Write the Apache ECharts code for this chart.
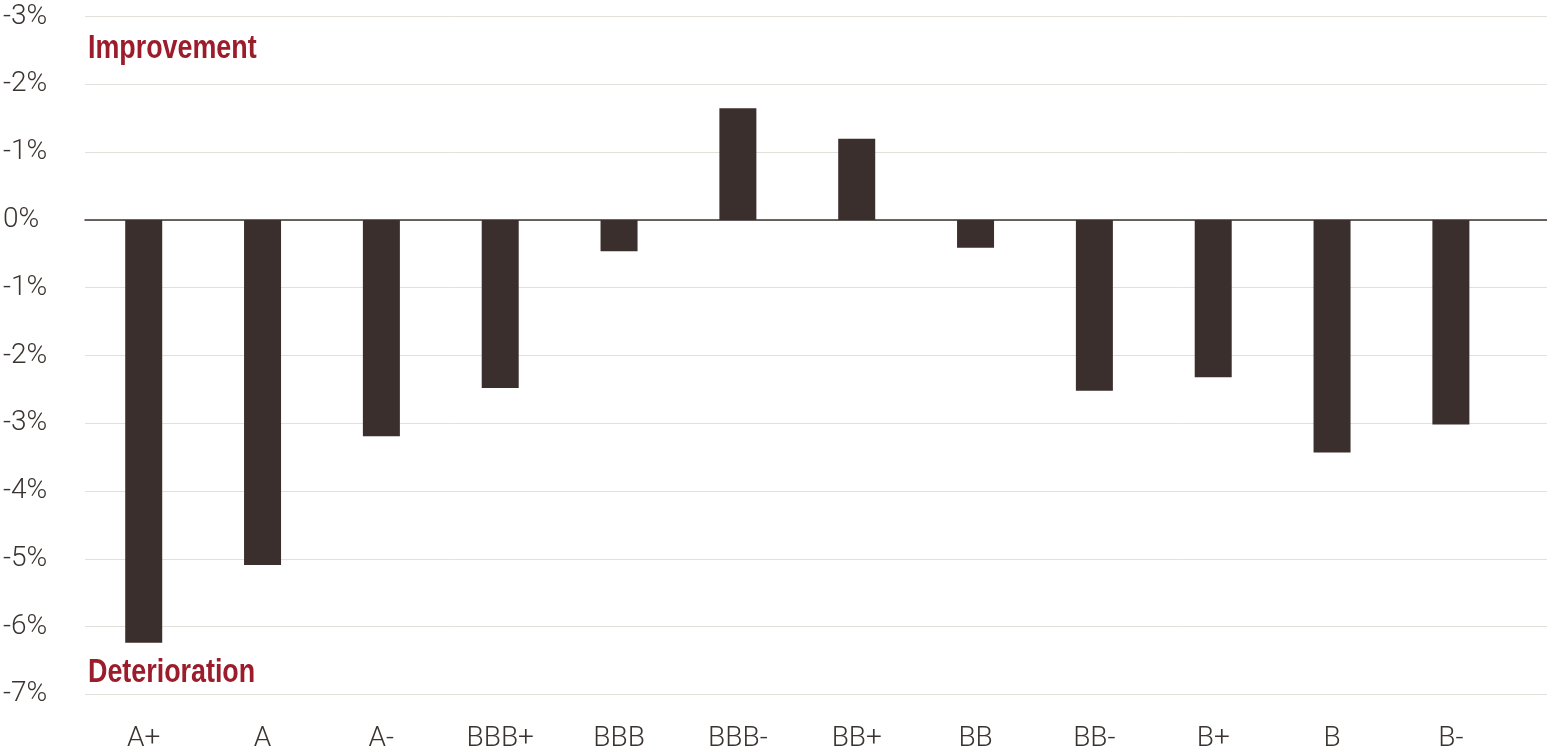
<!DOCTYPE html>
<html>
<head>
<meta charset="utf-8">
<script src="https://cdn.jsdelivr.net/npm/echarts@6/dist/echarts.min.js"></script>
<style>html,body{margin:0;padding:0;background:#fff;}#c{width:1547px;height:754px;}</style>
</head>
<body>
<div id="c"></div>
<script>
const categories = ['A+', 'A', 'A-', 'BBB+', 'BBB', 'BBB-', 'BB+', 'BB', 'BB-', 'B+', 'B', 'B-'];
const values = [-6.24, -5.09, -3.19, -2.48, -0.46, 1.65, 1.20, -0.41, -2.52, -2.32, -3.43, -3.02];
const yTicks = { min: -7, max: 3, interval: 1 };
const annotations = ['Improvement', 'Deterioration'];

const chart = echarts.init(document.getElementById('c'), null, { renderer: 'canvas' });
const labelFont = { fontFamily: 'Roboto', fontWeight: 300, fontSize: 28, color: '#3a3330' };
const gridTop = 16.7, gridBottom = 59.7;
const noteFont = 'bold 34px "Liberation Sans", sans-serif';
chart.setOption({
  animation: false,
  backgroundColor: '#ffffff',
  grid: [
    { left: 85, right: 0, top: gridTop, bottom: gridBottom },
    { left: 84.3, width: 1426, top: gridTop, bottom: gridBottom }
  ],
  xAxis: [
    { gridIndex: 0, type: 'category', data: [''], axisLine: { onZero: true, lineStyle: { color: '#3b3331', width: 1.5 } }, axisTick: { show: false }, axisLabel: { show: false }, z: 5 },
    { gridIndex: 1, type: 'category', data: categories, axisLine: { show: false }, axisTick: { show: false },
      axisLabel: Object.assign({ margin: 31, interval: 0 }, labelFont) }
  ],
  yAxis: [
    { gridIndex: 0, type: 'value', min: yTicks.min, max: yTicks.max, interval: yTicks.interval,
      axisLine: { show: false }, axisTick: { show: false },
      splitLine: { lineStyle: { color: '#e3e0dc', width: 1 } },
      axisLabel: Object.assign({ margin: 82, align: 'left',
        formatter: v => v === 0 ? '0%' : '-' + Math.abs(v) + '%' }, labelFont) },
    { gridIndex: 1, type: 'value', min: yTicks.min, max: yTicks.max, interval: yTicks.interval, show: false }
  ],
  series: [{
    type: 'bar', xAxisIndex: 1, yAxisIndex: 1, data: values, barWidth: 37,
    itemStyle: { color: '#3b2f2d' }
  }],
  graphic: [
    { type: 'text', x: 88, y: 32, scaleX: 0.79, style: { text: annotations[0], font: noteFont, fill: '#9b1c2b' } },
    { type: 'text', x: 88, y: 656, scaleX: 0.79, style: { text: annotations[1], font: noteFont, fill: '#9b1c2b' } }
  ]
});
</script>
</body>
</html>
